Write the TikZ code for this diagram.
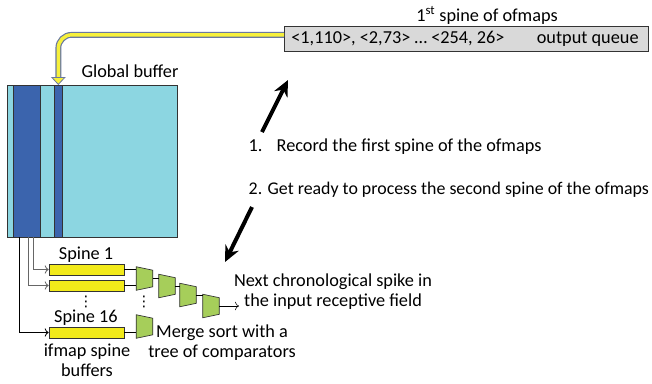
\documentclass[tikz,border=0pt]{standalone}
\usepackage{fontspec}
\setmainfont{Carlito}
\newfontfamily\symfont{DejaVu Sans}
\usetikzlibrary{arrows.meta}

\definecolor{bufcyan}{RGB}{140,214,225}
\definecolor{colblue}{RGB}{59,100,173}
\definecolor{spineyellow}{RGB}{242,234,26}
\definecolor{cmpgreen}{RGB}{166,206,90}
\definecolor{queuegray}{RGB}{217,217,217}
\definecolor{pipeedge}{RGB}{105,120,160}
\definecolor{pipeyellow}{RGB}{246,240,60}

\begin{document}
\begin{tikzpicture}[x=0.75pt,y=-0.75pt,
	every node/.style={font=\fontsize{13.7}{15}\selectfont},
	blk/.style={draw=black!80,anchor=north west,inner sep=0pt,line width=0.5pt},
	spinebuf/.style={draw=black!80,fill=spineyellow,minimum width=56.25pt,minimum height=8.25pt,inner sep=0pt},
	cmp/.style={minimum width=12pt,minimum height=17.25pt,inner sep=0pt},
	cmpshape/.style={draw=black!80,fill=cmpgreen,line width=0.5pt},
	dotsnode/.style={inner sep=0pt,font=\symfont\fontsize{11}{11}\selectfont},
	feed/.style={->,>={To[length=3pt]},line width=0.6pt},
	bigarrow/.style={line width=3pt,-{Stealth[length=12pt,width=11pt]}}]

	\useasboundingbox (0,0) rectangle (652,383);

	% global buffer and its columns
	\node[blk,fill=bufcyan,minimum width=127.5pt,minimum height=114pt] (gb) at (7,85) {};
	\node[blk,fill=colblue,minimum width=20.25pt,minimum height=114pt] (col) at (13,85) {};
	\node[blk,fill=colblue,minimum width=6pt,minimum height=114pt] (stripe) at (54,85) {};
	\node (gblabel) at (130,71) {Global buffer};

	% output queue
	\node[blk,fill=queuegray,minimum width=273pt,minimum height=18.75pt] (oq) at (284,26) {};
	\node[anchor=west] (oqdata) at ([xshift=2pt]oq.west) {<1,110>, <2,73> … <254, 26>};
	\node[anchor=east] (oqname) at ([xshift=-4pt]oq.east) {output queue};
	\node (oqlabel) at (487,15) {1\textsuperscript{st} spine of ofmaps};

	% write back into the global buffer
	\draw[pipeedge,line width=4.4pt,rounded corners=10pt,shorten >=5pt] ([yshift=3pt]oq.west) -| (stripe.north);
	\draw[pipeyellow,line width=2.6pt,rounded corners=10pt,
		-{Triangle[width=11pt,length=6pt,line width=0.6pt,color=pipeedge,fill=pipeyellow]}]
		([yshift=3pt]oq.west) -| (stripe.north);

	% steps
	\node[anchor=west] (step1) at (244,147) {\makebox[21pt][l]{1.}Record the first spine of the ofmaps};
	\node[anchor=west,font=\fontsize{13.4}{15}\selectfont] (step2) at (244,190) {2. Get ready to process the second spine of the ofmaps};

	\coordinate (up1) at (262,132);
	\coordinate (up2) at (288,80);
	\coordinate (dn1) at (252,207);
	\coordinate (dn2) at (225,262);
	\draw[bigarrow] (up1) -- (up2);
	\draw[bigarrow] (dn1) -- (dn2);

	% ifmap spine buffers
	\node[spinebuf] (s1) at (86.5,269.5) {};
	\node[spinebuf] (s2) at (86.5,285.5) {};
	\node[spinebuf] (s16) at (86.5,332.5) {};
	\node (s1label) at (86,255) {Spine 1};
	\node (s16label) at (86,318) {Spine 16};
	\node[dotsnode] (sdots) at (86,302) {⋮};
	\node[align=center] (sbuflabel) at (87,360) {ifmap spine\\buffers};

	\coordinate (f1) at (33,237);
	\coordinate (f2) at (28,237);
	\coordinate (f16) at (19,237);
	\draw[feed,black!60] (f1) |- (s1.west);
	\draw[feed,black!60] (f2) |- (s2.west);
	\draw[feed] (f16) |- (s16.west);

	% tree of comparators
	\node[cmp] (c1) at (144.5,278.5) {};
	\node[cmp] (c2) at (167,286) {};
	\node[cmp] (c3) at (188,295) {};
	\node[cmp] (c4) at (211,306) {};
	\node[cmp] (c5) at (144.5,326.5) {};
	\foreach \c in {c1,c2,c3,c4,c5}
		\draw[cmpshape] (\c.north west) -- ([yshift=-2.6pt]\c.north east)
			-- ([yshift=2.6pt]\c.south east) -- (\c.south west) -- cycle;
	\node[dotsnode] (cdots) at (144,302) {⋮};

	\draw (s1.east) -- (s1.east -| c1.west);
	\draw (s2.east) -- (s2.east -| c1.west);
	\draw (s16.east) -- (s16.east -| c5.west);
	\draw (c1.east) -- (c1.east -| c2.west);
	\draw (c2.east) -- (c2.east -| c3.west);
	\draw (c3.east) -- (c3.east -| c4.west);
	\coordinate (nextspike) at (239,306);
	\draw[->,>={To[length=3pt]}] (c4.east) -- (nextspike);

	\node[align=center] (nextlabel) at (333,292) {Next chronological spike in\\the input receptive field};
	\node[align=center] (mergelabel) at (222,343) {Merge sort with a\\tree of comparators};

\end{tikzpicture}
\end{document}
